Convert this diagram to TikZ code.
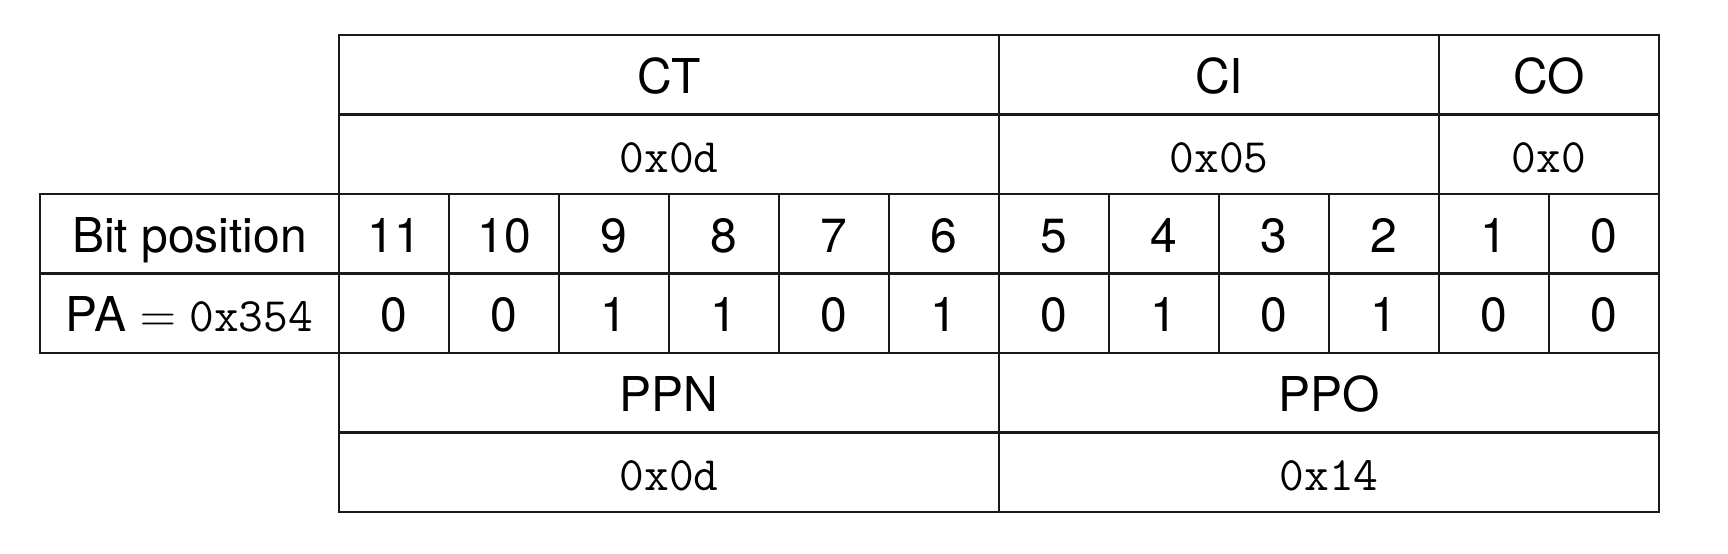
\documentclass[tikz,border=0pt]{standalone}
\usepackage{fontspec}
\setmainfont{TeX Gyre Heros}
\usetikzlibrary{positioning}
\tikzset{
  cell/.style={draw=black!90, line width=0.7pt, inner sep=0pt, outer sep=0pt,
    minimum height=19.875pt, text height=9.25pt, text depth=0pt,
    font=\fontsize{12}{14}\selectfont},
  bitcell/.style={cell, minimum width=27.5pt},
}

\begin{document}
\begin{tikzpicture}[x=0.25pt,y=-0.25pt]
        \useasboundingbox (0,0) rectangle (1728,554);
        % cache fields
        \node[cell, minimum width=165pt] (ct) at (669,74.75) {CT};
        \node[cell, minimum width=110pt] (ci) at (1219,74.75) {CI};
        \node[cell, minimum width=55pt] (co) at (1549,74.75) {CO};
        \node[cell, minimum width=165pt] (ctval) at (669,154.25) {\texttt{0x0d}};
        \node[cell, minimum width=110pt] (cival) at (1219,154.25) {\texttt{0x05}};
        \node[cell, minimum width=55pt] (coval) at (1549,154.25) {\texttt{0x0}};
        % bits
        \node[cell, minimum width=74.75pt] (bitpos) at (189.5,233.75) {Bit position};
        \node[cell, minimum width=74.75pt] (pa) at (189.5,313.25) {PA $=$ \texttt{0x354}};
        \foreach \b/\v [count=\i from 0] in {11/0,10/0,9/1,8/1,7/0,6/1,5/0,4/1,3/0,2/1,1/0,0/0} {
            \node[bitcell] (bit\b) at ({394+110*\i},233.75) {\b};
            \node[bitcell] (val\b) at ({394+110*\i},313.25) {\v};
        }
        % page fields
        \node[cell, minimum width=165pt] (ppn) at (669,392.75) {PPN};
        \node[cell, minimum width=165pt] (ppo) at (1329,392.75) {PPO};
        \node[cell, minimum width=165pt] (ppnval) at (669,472.25) {\texttt{0x0d}};
        \node[cell, minimum width=165pt] (ppoval) at (1329,472.25) {\texttt{0x14}};
    \end{tikzpicture}
\end{document}
